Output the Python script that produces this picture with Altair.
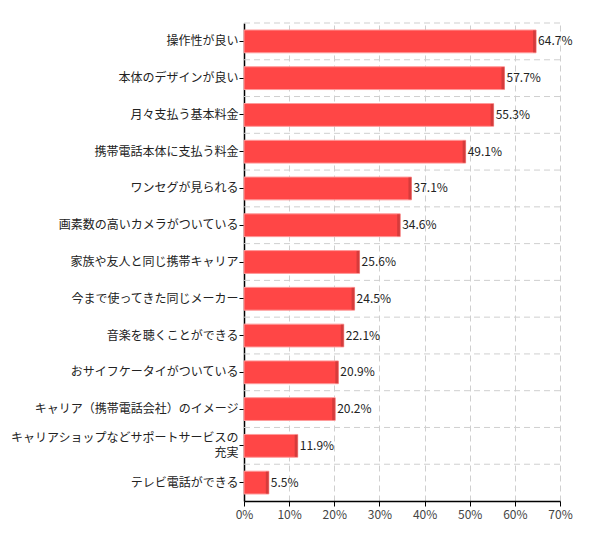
import altair as alt
import pandas as pd

categories = [
    "操作性が良い",
    "本体のデザインが良い",
    "月々支払う基本料金",
    "携帯電話本体に支払う料金",
    "ワンセグが見られる",
    "画素数の高いカメラがついている",
    "家族や友人と同じ携帯キャリア",
    "今まで使ってきた同じメーカー",
    "音楽を聴くことができる",
    "おサイフケータイがついている",
    "キャリア（携帯電話会社）のイメージ",
    "キャリアショップなどサポートサービスの充実",
    "テレビ電話ができる",
]
values = [64.7, 57.7, 55.3, 49.1, 37.1, 34.6, 25.6, 24.5, 22.1, 20.9, 20.2, 11.9, 5.5]

df = pd.DataFrame({"cat": categories, "v": [x / 100 for x in values]})
df["lbl"] = [f"{x:.1f}%" for x in values]

FONT = "Noto Sans CJK JP"
W, H = 316, 478

yscale = alt.Scale(domain=categories, paddingInner=0, paddingOuter=0)
xscale = alt.Scale(domain=[0, 0.7], nice=False)

LONG = "キャリアショップなどサポートサービスの充実"
label_expr = (
    f"datum.label == '{LONG}' ? "
    "['キャリアショップなどサポートサービスの', '充実'] : datum.label"
)

yaxis = alt.Axis(
    labelExpr=label_expr,
    labelFont=FONT,
    labelFontSize=12,
    labelColor="#222",
    labelPadding=1,
    labelLineHeight=15,
    labelOffset={"condition": {"test": f"datum.label == '{LONG}'", "value": -7.5}, "value": 0},
    tickColor="#000",
    tickSize=5,
    domainColor="#000",
    domainWidth=1.5,
    grid=False,
    labelLimit=300,
    minExtent=236,
    maxExtent=236,
)

grid_h = alt.Chart(df).mark_rule(color="#cfcfcf", strokeDash=[6, 4], strokeWidth=1).encode(
    y=alt.Y("cat:N", scale=yscale, bandPosition=0, title=None, axis=yaxis),
    x=alt.value(0),
    x2=alt.value(W),
)

bars = alt.Chart(df).mark_bar(
    height={"band": 0.62}, color="#ff4646", stroke="#ff9a9a", strokeWidth=1
).encode(
    y=alt.Y("cat:N", scale=yscale, title=None, axis=yaxis),
    x=alt.X(
        "v:Q",
        scale=xscale,
        title=None,
        axis=alt.Axis(
            format=".0%",
            values=[0, 0.1, 0.2, 0.3, 0.4, 0.5, 0.6, 0.7],
            labelFont=FONT,
            labelFontSize=12,
            labelColor="#444",
            labelFlush=False,
            tickColor="#000",
            tickSize=5,
            domainColor="#000",
            domainWidth=1.5,
            grid=True,
            gridColor="#cfcfcf",
            gridDash=[6, 4],
            labelPadding=3,
        ),
    ),
)

edge = alt.Chart(df).mark_tick(color="#c53636", thickness=3, size=22, xOffset=-1.5).encode(
    y=alt.Y("cat:N", scale=yscale),
    x=alt.X("v:Q", scale=xscale),
)

text = alt.Chart(df).mark_text(
    align="left", baseline="middle", dx=2, font=FONT, fontSize=12, color="#222"
).encode(
    y=alt.Y("cat:N", scale=yscale),
    x=alt.X("v:Q", scale=xscale),
    text="lbl:N",
)

chart = (
    alt.layer(grid_h, bars, edge, text)
    .properties(width=W, height=H, padding={"left": 0, "top": 14, "right": 5, "bottom": 5})
    .configure_view(stroke=None)
)

chart.save("out.html", embed_options={"renderer": "svg", "actions": False})
